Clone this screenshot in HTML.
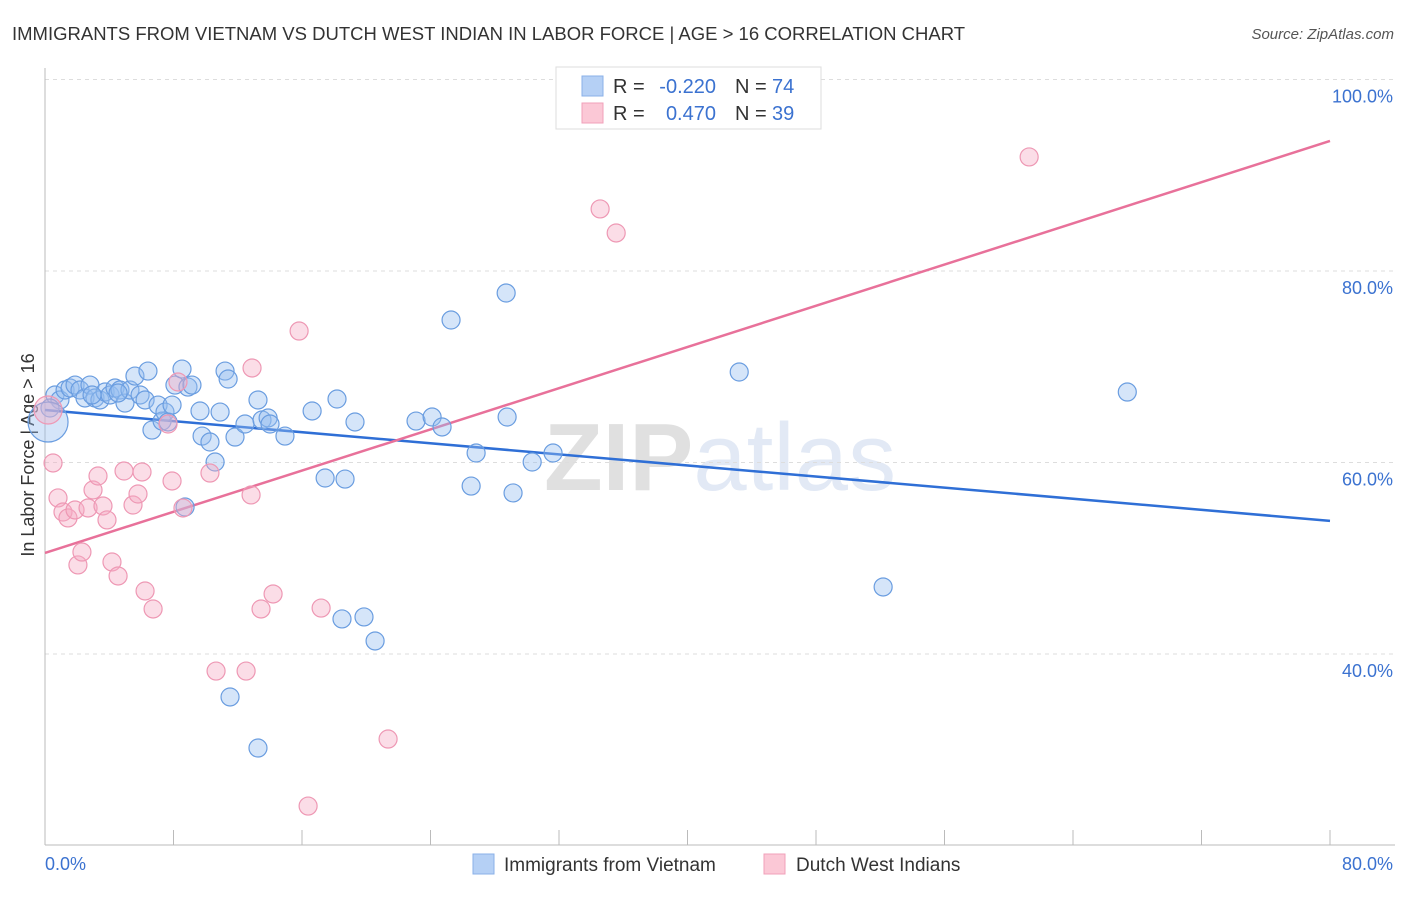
<!DOCTYPE html>
<html><head><meta charset="utf-8"><style>
body{margin:0;background:#fff;font-family:"Liberation Sans",sans-serif;}
svg text{font-family:"Liberation Sans",sans-serif;}
</style></head><body>
<svg id="chart" width="1406" height="892" xmlns="http://www.w3.org/2000/svg">
<text x="12" y="40" font-size="18.5" fill="#333">IMMIGRANTS FROM VIETNAM VS DUTCH WEST INDIAN IN LABOR FORCE | AGE &gt; 16 CORRELATION CHART</text>
<text x="1394" y="39" font-size="15" fill="#555" text-anchor="end" font-style="italic">Source: ZipAtlas.com</text>
<text x="720" y="490" font-size="96" fill="#e4e4e4" text-anchor="middle" font-family="Liberation Serif"><tspan font-weight="bold" fill="#e0e0e0">ZIP</tspan><tspan fill="#e2e9f5" font-family="Liberation Sans">atlas</tspan></text>
<g id="grid"></g>
<g id="axes"></g>
<text transform="translate(34,455) rotate(-90)" font-size="18" fill="#333" text-anchor="middle">In Labor Force | Age &gt; 16</text>
<g id="lines"></g>
<g id="pts"></g>
<g>
<rect x="556" y="67" width="265" height="62" fill="#fff" stroke="#ddd"/>
<rect x="582" y="76" width="21" height="20" fill="#b5d0f5" stroke="#8ab0e8"/>
<rect x="582" y="103" width="21" height="20" fill="#fbc8d6" stroke="#f0a0ba"/>
<text x="613" y="93" font-size="20" fill="#333">R =</text>
<text x="716" y="93" font-size="20" fill="#3b72d0" text-anchor="end">-0.220</text>
<text x="735" y="93" font-size="20" fill="#333">N =</text>
<text x="772" y="93" font-size="20" fill="#3b72d0">74</text>
<text x="613" y="120" font-size="20" fill="#333">R =</text>
<text x="716" y="120" font-size="20" fill="#3b72d0" text-anchor="end">0.470</text>
<text x="735" y="120" font-size="20" fill="#333">N =</text>
<text x="772" y="120" font-size="20" fill="#3b72d0">39</text>
</g>
<g>
<rect x="473" y="854" width="21" height="20" fill="#b5d0f5" stroke="#8ab0e8"/>
<text x="504" y="871" font-size="19" fill="#333">Immigrants from Vietnam</text>
<rect x="764" y="854" width="21" height="20" fill="#fbc8d6" stroke="#f0a0ba"/>
<text x="796" y="871" font-size="19" fill="#333">Dutch West Indians</text>
</g>
</svg>
<script>
const yTicks=[40,60,80,100];
const yTickLabels=["40.0%","60.0%","80.0%","100.0%"];
const xTickVals=[0,8,16,24,32,40,48,56,64,72,80];
const blueX=[0.62,0.93,1.25,1.56,1.87,2.18,2.49,2.80,3.11,3.42,3.74,4.05,4.36,4.67,4.98,5.29,5.60,5.92,6.23,6.41,6.66,7.04,7.29,7.47,7.66,7.91,8.09,8.53,8.90,9.15,9.65,9.78,10.27,10.59,10.90,11.21,11.40,11.83,12.45,13.26,13.51,13.89,14.01,14.94,16.63,17.44,18.18,18.68,19.30,23.10,24.10,24.72,25.28,26.53,26.84,28.71,28.77,29.14,30.33,31.63,43.22,52.18,67.38,8.72,18.49,19.86,20.55,11.52,13.26,0.31,2.93,4.55,0.19];
const blueY=[67.05,66.53,67.57,67.78,68.09,67.57,66.74,68.09,66.74,66.53,67.36,67.05,67.78,67.57,66.21,67.57,69.03,67.05,66.53,69.55,63.39,66.00,64.33,65.27,64.23,66.00,68.09,69.76,67.88,68.09,65.38,62.76,62.14,60.05,65.27,69.55,68.72,62.66,64.02,66.53,64.44,64.65,64.02,62.76,65.38,58.38,66.63,58.27,64.23,64.33,64.75,63.71,74.88,57.54,60.99,77.70,64.75,56.82,60.05,60.99,69.45,47.00,67.36,55.35,43.66,43.87,41.36,35.51,30.18,65.69,67.05,67.26,64.23];
const pinkX=[0.19,0.50,0.81,1.12,1.43,1.87,2.05,2.30,2.68,2.99,3.30,3.61,3.86,4.17,4.55,4.92,5.48,5.79,6.04,6.23,6.73,7.66,7.91,8.28,8.59,10.27,10.65,12.52,12.83,12.89,13.45,14.20,15.82,16.38,17.19,21.36,34.56,35.56,61.27];
const pinkY=[65.48,59.95,56.30,54.83,54.21,55.04,49.30,50.65,55.25,57.13,58.59,55.46,54.00,49.61,48.15,59.11,55.56,56.71,59.01,46.58,44.70,64.02,58.07,68.41,55.25,58.90,38.22,38.22,56.61,69.87,44.70,46.27,73.73,24.12,44.80,31.12,86.48,83.97,91.91];
const blueTrend=[65.48,53.9];
const pinkTrend=[50.55,93.58];
const NS="http://www.w3.org/2000/svg";
const X=v=>45+v*(1285/80);
const Y=v=>79.5+(100-v)*9.575;
function mk(tag,attrs,parent){const e=document.createElementNS(NS,tag);for(const k in attrs)e.setAttribute(k,attrs[k]);parent.appendChild(e);return e;}
const grid=document.getElementById('grid'),axes=document.getElementById('axes');
yTicks.forEach((t,i)=>{
 const l=mk('line',{x1:45,x2:1395,y1:Y(t),y2:Y(t),stroke:'#ddd','stroke-dasharray':'4,4'},grid);
 
 
 const tx=mk('text',{x:1393,y:Y(t)+23,'font-size':18,fill:'#3b72d0','text-anchor':'end'},axes);
 
 
 tx.textContent=yTickLabels[i];
});
mk('line',{x1:45,x2:45,y1:68,y2:845,stroke:'#bbb'},axes);
mk('line',{x1:45,x2:1395,y1:845,y2:845,stroke:'#bbb'},axes);
xTickVals.forEach(v=>{
 const t=mk('line',{x1:X(v),x2:X(v),y1:830,y2:845,stroke:'#bbb'},axes);
 
 
});
const x0=mk('text',{x:45,y:870,'font-size':18,fill:'#3b72d0'},axes);


x0.textContent='0.0%';
const x1=mk('text',{x:1393,y:870,'font-size':18,fill:'#3b72d0','text-anchor':'end'},axes);


x1.textContent='80.0%';
const pts=document.getElementById('pts');
function dots(xs,ys,fill,stroke,name,bigR){
 xs.forEach((x,i)=>{
  const big=(x<0.3);
  const c=mk('circle',{cx:X(x),cy:Y(ys[i]),r:big?bigR:9,fill:fill,stroke:stroke,'stroke-width':1.2},pts);
  
  
 });
}
dots(blueX,blueY,'rgba(150,190,240,0.4)','#6a9de0','point-vietnam',20);
dots(pinkX,pinkY,'rgba(246,170,195,0.4)','#ee98b4','point-dutch-west-indian',14);
const lines=document.getElementById('lines');
const bl=mk('line',{x1:X(0),y1:Y(blueTrend[0]),x2:X(80),y2:Y(blueTrend[1]),stroke:'#2f6fd6','stroke-width':2.5},lines);


const pl=mk('line',{x1:X(0),y1:Y(pinkTrend[0]),x2:X(80),y2:Y(pinkTrend[1]),stroke:'#e8719a','stroke-width':2.5},lines);


</script>
</body></html>
